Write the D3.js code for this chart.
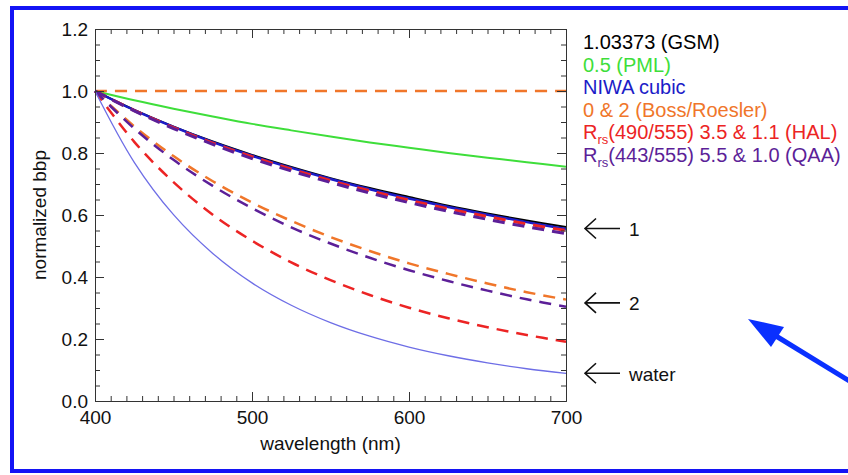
<!DOCTYPE html>
<html lang="en">
<head>
<meta charset="utf-8">
<title>normalized bbp</title>
<script src="https://cdnjs.cloudflare.com/ajax/libs/d3/7.8.5/d3.min.js"></script>
<style>
  body { margin: 0; background: #fff; }
  svg { display: block; font-family: "Liberation Sans", Arial, Helvetica, sans-serif; }
</style>
</head>
<body>
<div id="chart"></div>
<script>

// wavelengths (nm) where the curves were read
var wavelength = [400, 425, 450, 475, 500, 525, 550, 575, 600, 625, 650, 675, 700];

// normalized bbp values
var gsm    = [1.0, 0.939, 0.885, 0.837, 0.794, 0.755, 0.719, 0.687, 0.658, 0.630, 0.605, 0.582, 0.561];
var pml    = [1.0, 0.970, 0.943, 0.918, 0.894, 0.873, 0.853, 0.834, 0.817, 0.800, 0.785, 0.770, 0.756];
var niwa   = [1.0, 0.938, 0.884, 0.835, 0.791, 0.752, 0.716, 0.683, 0.653, 0.626, 0.601, 0.577, 0.555];
var boss0  = [1.0, 1.0, 1.0, 1.0, 1.0, 1.0, 1.0, 1.0, 1.0, 1.0, 1.0, 1.0, 1.0];
var boss2  = [1.0, 0.886, 0.790, 0.709, 0.640, 0.581, 0.529, 0.484, 0.444, 0.410, 0.379, 0.351, 0.327];
var hal1   = [1.0, 0.937, 0.882, 0.832, 0.788, 0.748, 0.711, 0.678, 0.648, 0.620, 0.595, 0.571, 0.550];
var hal2   = [1.0, 0.836, 0.706, 0.601, 0.517, 0.447, 0.390, 0.342, 0.301, 0.267, 0.238, 0.213, 0.191];
var qaa1   = [1.0, 0.936, 0.879, 0.828, 0.782, 0.742, 0.705, 0.671, 0.640, 0.612, 0.586, 0.562, 0.540];
var qaa2   = [1.0, 0.879, 0.778, 0.694, 0.622, 0.560, 0.508, 0.462, 0.422, 0.387, 0.356, 0.328, 0.304];
var water  = [1.0, 0.770, 0.601, 0.476, 0.381, 0.309, 0.253, 0.209, 0.174, 0.146, 0.123, 0.104, 0.089];

var xTicks = [400, 500, 600, 700];
var yTicks = [0.0, 0.2, 0.4, 0.6, 0.8, 1.0, 1.2];

// legend entries
var legendLabels = ["1.03373 (GSM)", "0.5 (PML)", "NIWA cubic", "0 & 2 (Boss/Roesler)",
                    "(490/555) 3.5 & 1.1 (HAL)", "(443/555) 5.5 & 1.0 (QAA)"];

// arrow annotations on the right
var noteLabels = ["1", "2", "water"];
var noteValues = [0.55, 0.31, 0.083];

var colors = {
  gsm: "#000000", pml: "#3ede3a", niwa: "#1c1cc8", boss: "#f0762a",
  hal: "#ec2424", qaa: "#5c1f98", water: "#6e6ee6"
};

var width = 848, height = 475;

var x = d3.scaleLinear().domain([400, 700]).range([95, 566]);
var y = d3.scaleLinear().domain([0, 1.2]).range([401, 29]);

var svg = d3.select("#chart").append("svg")
  .attr("width", width)
  .attr("height", height);

var line = d3.line()
  .curve(d3.curveCatmullRom)
  .x(function (d) { return x(d[0]); })
  .y(function (d) { return y(d[1]); });

function pts(vals) {
  return wavelength.map(function (w, i) { return [w, vals[i]]; });
}

var series = [
  { v: gsm,   c: colors.gsm,   w: 2,   dash: null },
  { v: pml,   c: colors.pml,   w: 2,   dash: null },
  { v: niwa,  c: colors.niwa,  w: 2.5, dash: null },
  { v: boss0, c: colors.boss,  w: 2.5, dash: "12,8" },
  { v: boss2, c: colors.boss,  w: 2.5, dash: "12,8" },
  { v: hal1,  c: colors.hal,   w: 3,   dash: "12,8" },
  { v: hal2,  c: colors.hal,   w: 2.5, dash: "12,8" },
  { v: qaa1,  c: colors.qaa,   w: 3,   dash: "12,8" },
  { v: qaa2,  c: colors.qaa,   w: 2.5, dash: "12,8" },
  { v: water, c: colors.water, w: 1.3, dash: null }
];

svg.selectAll(".curve")
  .data(series)
  .enter().append("path")
  .attr("class", "curve")
  .attr("d", function (d) { return line(pts(d.v)); })
  .attr("fill", "none")
  .attr("stroke", function (d) { return d.c; })
  .attr("stroke-width", function (d) { return d.w; })
  .attr("stroke-dasharray", function (d) { return d.dash; });

// axes: ticks point inward on all four sides
var xMinor = d3.range(400, 701, 10);
var yMinor = d3.range(0, 1.201, 0.05);
var axisColor = "#333";

function styleAxis(g) {
  g.selectAll("path, line").attr("stroke", axisColor);
  g.selectAll("text").attr("fill", "#111").style("font-size", "19px").style("font-family", "Liberation Sans, Arial, sans-serif");
}

svg.append("g")
  .attr("transform", "translate(0," + y(0) + ")")
  .call(d3.axisBottom(x).tickValues(xTicks).tickSize(-9).tickSizeOuter(0).tickPadding(10).tickFormat(d3.format("d")))
  .call(styleAxis);
svg.append("g")
  .attr("transform", "translate(0," + y(0) + ")")
  .call(d3.axisBottom(x).tickValues(xMinor).tickSize(-5).tickSizeOuter(0).tickFormat(""))
  .call(styleAxis);

svg.append("g")
  .attr("transform", "translate(0," + y(1.2) + ")")
  .call(d3.axisTop(x).tickValues(xTicks).tickSize(-9).tickSizeOuter(0).tickFormat(""))
  .call(styleAxis);
svg.append("g")
  .attr("transform", "translate(0," + y(1.2) + ")")
  .call(d3.axisTop(x).tickValues(xMinor).tickSize(-5).tickSizeOuter(0).tickFormat(""))
  .call(styleAxis);

svg.append("g")
  .attr("transform", "translate(" + x(400) + ",0)")
  .call(d3.axisLeft(y).tickValues(yTicks).tickSize(-9).tickSizeOuter(0).tickPadding(7).tickFormat(d3.format(".1f")))
  .call(styleAxis);
svg.append("g")
  .attr("transform", "translate(" + x(400) + ",0)")
  .call(d3.axisLeft(y).tickValues(yMinor).tickSize(-5).tickSizeOuter(0).tickFormat(""))
  .call(styleAxis);

svg.append("g")
  .attr("transform", "translate(" + x(700) + ",0)")
  .call(d3.axisRight(y).tickValues(yTicks).tickSize(-9).tickSizeOuter(0).tickFormat(""))
  .call(styleAxis);
svg.append("g")
  .attr("transform", "translate(" + x(700) + ",0)")
  .call(d3.axisRight(y).tickValues(yMinor).tickSize(-5).tickSizeOuter(0).tickFormat(""))
  .call(styleAxis);

// axis titles
svg.append("text")
  .attr("x", (x(400) + x(700)) / 2)
  .attr("y", 450)
  .attr("text-anchor", "middle")
  .style("font-size", "19px")
  .attr("fill", "#111")
  .text("wavelength (nm)");

svg.append("text")
  .attr("transform", "translate(46," + ((y(0) + y(1.2)) / 2) + ") rotate(-90)")
  .attr("text-anchor", "middle")
  .style("font-size", "19px")
  .attr("fill", "#111")
  .text("normalized bbp");

// legend
var legendColors = [colors.gsm, colors.pml, colors.niwa, colors.boss, colors.hal, colors.qaa];

var legend = svg.selectAll(".legend")
  .data(legendLabels)
  .enter().append("text")
  .attr("class", "legend")
  .attr("x", 583)
  .attr("y", function (d, i) { return 49 + i * 22.6; })
  .attr("fill", function (d, i) { return legendColors[i]; })
  .style("font-size", "20px");

legend.each(function (d, i) {
  var t = d3.select(this);
  if (i < 4) {
    t.text(d);
  } else {
    t.append("tspan").text("R");
    t.append("tspan").attr("dy", 5).style("font-size", "13px").text("rs");
    t.append("tspan").attr("dy", -5).text(d);
  }
});

// black arrows pointing at the curve ends
var notes = svg.selectAll(".note")
  .data(noteLabels)
  .enter().append("g")
  .attr("class", "note")
  .attr("transform", function (d, i) { return "translate(584," + (y(noteValues[i]) - 2) + ")"; });

notes.append("path")
  .attr("d", "M36,0 H1 M12,-10 L1,0 L12,10")
  .attr("fill", "none")
  .attr("stroke", "#111")
  .attr("stroke-width", 1.6);

notes.append("text")
  .attr("x", 45)
  .attr("dy", "0.38em")
  .style("font-size", "19px")
  .attr("fill", "#111")
  .text(function (d) { return d; });

// big blue arrow
svg.append("line")
  .attr("x1", 900).attr("y1", 412)
  .attr("x2", 776).attr("y2", 336)
  .attr("stroke", "#0a30ff")
  .attr("stroke-width", 5);
svg.append("path")
  .attr("d", "M748,319 L784,327 L771,347 Z")
  .attr("fill", "#0a30ff");

// blue slide frame
svg.append("rect")
  .attr("x", 12)
  .attr("y", 8)
  .attr("width", 900)
  .attr("height", 463)
  .attr("fill", "none")
  .attr("stroke", "#1414f5")
  .attr("stroke-width", 4);
</script>
</body>
</html>
